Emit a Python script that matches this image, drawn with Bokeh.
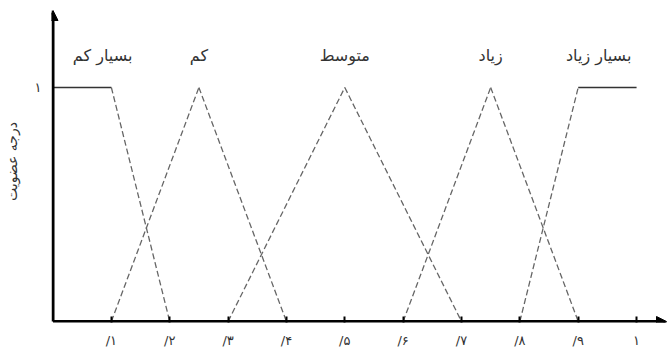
from bokeh.plotting import figure
from bokeh.models import Arrow, NormalHead, FixedTicker, ColumnDataSource
from bokeh.core.properties import value
from bokeh.embed import file_html
from bokeh.resources import INLINE

# membership functions: breakpoints (x) and degree (y)
set_names = ["بسیار کم", "کم", "متوسط", "زیاد", "بسیار زیاد"]
very_low_x = [0.0, 0.1, 0.2]
very_low_y = [1, 1, 0]
low_x = [0.1, 0.25, 0.4]
low_y = [0, 1, 0]
medium_x = [0.3, 0.5, 0.7]
medium_y = [0, 1, 0]
high_x = [0.6, 0.75, 0.9]
high_y = [0, 1, 0]
very_high_x = [0.8, 0.9, 1.0]
very_high_y = [0, 1, 1]

label_x = [0.085, 0.25, 0.5, 0.75, 0.935]
label_y = [1.137, 1.137, 1.137, 1.137, 1.137]

x_ticks = [0.1, 0.2, 0.3, 0.4, 0.5, 0.6, 0.7, 0.8, 0.9, 1.0]
x_tick_labels = ["/۱", "/۲", "/۳", "/۴", "/۵", "/۶", "/۷", "/۸", "/۹", "۱"]
y_ticks = [1]
y_tick_labels = ["۱"]
y_label = "درجه عضویت"

FONT = "DejaVu Sans"

p = figure(width=667, height=352,
           x_range=(-0.0026, 1.053), y_range=(-0.0043, 1.3718),
           output_backend="svg", toolbar_location=None,
           min_border_left=50, min_border_right=0,
           min_border_top=0, min_border_bottom=30)
p.grid.visible = False
p.outline_line_color = None
p.background_fill_color = "white"

# x axis
xa = p.xaxis[0]
xa.ticker = FixedTicker(ticks=x_ticks)
xa.major_label_overrides = {v: t for v, t in zip(x_ticks, x_tick_labels)}
xa.axis_line_color = None
xa.major_tick_in = 6
xa.major_tick_out = 0
xa.major_tick_line_width = 2
xa.major_tick_line_color = "black"
xa.minor_tick_line_color = None
xa.major_label_standoff = 10
xa.major_label_text_font = FONT
xa.major_label_text_font_size = "13px"
xa.major_label_text_color = "#333333"

# y axis
ya = p.yaxis[0]
ya.ticker = FixedTicker(ticks=y_ticks)
ya.major_label_overrides = {v: t for v, t in zip(y_ticks, y_tick_labels)}
ya.axis_line_color = None
ya.major_tick_in = 0
ya.major_tick_out = 0
ya.minor_tick_line_color = None
ya.major_label_standoff = 10
ya.major_label_text_font = FONT
ya.major_label_text_font_size = "13px"
ya.major_label_text_color = "#333333"
ya.axis_label = y_label
ya.axis_label_standoff = 12
ya.axis_label_text_font = FONT
ya.axis_label_text_font_size = "14px"
ya.axis_label_text_font_style = "normal"
ya.axis_label_text_color = "#333333"

# axis lines with arrow heads
p.add_layout(Arrow(x_start=0, y_start=0, x_end=1.0513, y_end=0,
                   line_width=3, line_color="black",
                   end=NormalHead(size=10, fill_color="black", line_color="black")))
p.add_layout(Arrow(x_start=0, y_start=0, x_end=0, y_end=1.329,
                   line_width=3, line_color="black",
                   end=NormalHead(size=10, fill_color="black", line_color="black")))

# membership functions
for xs, ys in [(very_low_x, very_low_y), (low_x, low_y), (medium_x, medium_y),
               (high_x, high_y), (very_high_x, very_high_y)]:
    for i in range(len(xs) - 1):
        seg_x = [xs[i], xs[i + 1]]
        seg_y = [ys[i], ys[i + 1]]
        if ys[i] == ys[i + 1]:
            p.line(seg_x, seg_y, line_color="#333333", line_width=1.6)
        else:
            p.line(seg_x, seg_y, line_color="#666666", line_width=1.3,
                   line_dash="6 3")

src = ColumnDataSource(dict(x=label_x, y=label_y, t=set_names))
p.text(x="x", y="y", text="t", source=src, text_font=value(FONT),
       text_font_size="16px", text_align="center", text_baseline="middle",
       text_color="#333333")

open("out.html", "w").write(file_html(p, INLINE))
